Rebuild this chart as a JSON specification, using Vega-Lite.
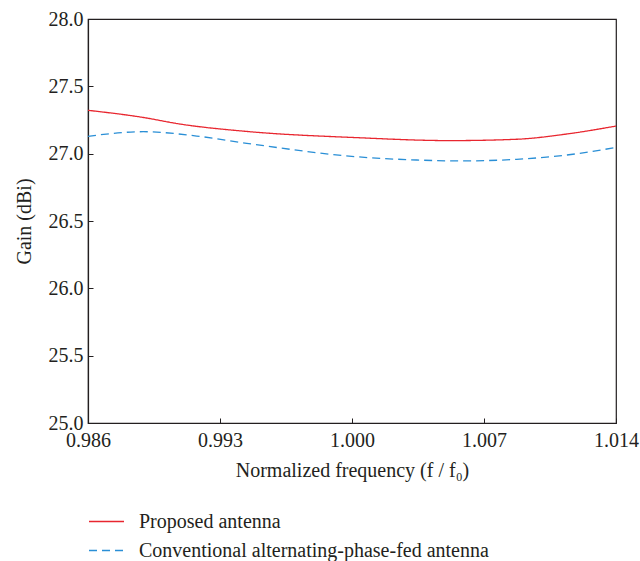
{
  "$schema": "https://vega.github.io/schema/vega-lite/v6.json",
  "width": 528,
  "height": 404,
  "autosize": {"type": "none"},
  "padding": {"left": 88, "top": 19, "right": 24, "bottom": 138},
  "config": {
    "font": "Liberation Serif",
    "view": {"stroke": "#231f20", "strokeWidth": 1.2},
    "axis": {
      "labelFont": "Liberation Serif",
      "titleFont": "Liberation Serif",
      "labelFontSize": 20,
      "titleFontSize": 20,
      "labelColor": "#231f20",
      "titleColor": "#231f20",
      "titleFontWeight": "normal",
      "domainColor": "#231f20",
      "tickColor": "#231f20",
      "grid": false,
      "tickSize": -5,
      "domainWidth": 1.2
    },
    "legend": {
      "labelFont": "Liberation Serif",
      "labelFontSize": 20,
      "labelColor": "#231f20",
      "labelLimit": 0
    }
  },
  "data": {
    "values": [
      {"f": 0.986, "gain": 27.322, "series": "Proposed antenna"},
      {"f": 0.98888, "gain": 27.27, "series": "Proposed antenna"},
      {"f": 0.99088, "gain": 27.22, "series": "Proposed antenna"},
      {"f": 0.99442, "gain": 27.165, "series": "Proposed antenna"},
      {"f": 1.00025, "gain": 27.119, "series": "Proposed antenna"},
      {"f": 1.0052, "gain": 27.097, "series": "Proposed antenna"},
      {"f": 1.00873, "gain": 27.107, "series": "Proposed antenna"},
      {"f": 1.01139, "gain": 27.146, "series": "Proposed antenna"},
      {"f": 1.014, "gain": 27.205, "series": "Proposed antenna"},
      {"f": 0.986, "gain": 27.129, "series": "Conventional alternating-phase-fed antenna"},
      {"f": 0.98893, "gain": 27.163, "series": "Conventional alternating-phase-fed antenna"},
      {"f": 0.99176, "gain": 27.131, "series": "Conventional alternating-phase-fed antenna"},
      {"f": 0.99442, "gain": 27.077, "series": "Conventional alternating-phase-fed antenna"},
      {"f": 1.00025, "gain": 26.977, "series": "Conventional alternating-phase-fed antenna"},
      {"f": 1.00343, "gain": 26.953, "series": "Conventional alternating-phase-fed antenna"},
      {"f": 1.00573, "gain": 26.946, "series": "Conventional alternating-phase-fed antenna"},
      {"f": 1.00873, "gain": 26.958, "series": "Conventional alternating-phase-fed antenna"},
      {"f": 1.01139, "gain": 26.99, "series": "Conventional alternating-phase-fed antenna"},
      {"f": 1.014, "gain": 27.046, "series": "Conventional alternating-phase-fed antenna"}
    ]
  },
  "mark": {"type": "line", "interpolate": "monotone", "strokeWidth": 1.3},
  "encoding": {
    "x": {
      "field": "f",
      "type": "quantitative",
      "scale": {"domain": [0.986, 1.014], "nice": false, "zero": false},
      "axis": {
        "values": [0.986, 0.993, 1.0, 1.007, 1.014],
        "format": ".3f",
        "title": "Normalized frequency (f / f₀)",
        "labelPadding": 12,
        "titlePadding": 10,
        "labelFlush": false,
        "labelOverlap": false
      }
    },
    "y": {
      "field": "gain",
      "type": "quantitative",
      "scale": {"domain": [25, 28], "nice": false, "zero": false},
      "axis": {
        "values": [25, 25.5, 26, 26.5, 27, 27.5, 28],
        "format": ".1f",
        "title": "Gain (dBi)",
        "labelPadding": 10,
        "titlePadding": 14,
        "labelOverlap": false,
        "labelFlush": false
      }
    },
    "color": {
      "field": "series",
      "type": "nominal",
      "sort": ["Proposed antenna", "Conventional alternating-phase-fed antenna"],
      "scale": {
        "domain": ["Proposed antenna", "Conventional alternating-phase-fed antenna"],
        "range": ["#e8262f", "#2a8fd6"]
      },
      "legend": {
        "title": null,
        "orient": "none",
        "legendX": 0,
        "legendY": 484,
        "symbolType": "stroke",
        "symbolSize": 1225,
        "symbolStrokeWidth": 1.3,
        "labelOffset": 14,
        "rowPadding": -4
      }
    },
    "strokeDash": {
      "field": "series",
      "type": "nominal",
      "sort": ["Proposed antenna", "Conventional alternating-phase-fed antenna"],
      "scale": {
        "domain": ["Proposed antenna", "Conventional alternating-phase-fed antenna"],
        "range": [[1, 0], [8, 5]]
      },
      "legend": null
    }
  }
}
